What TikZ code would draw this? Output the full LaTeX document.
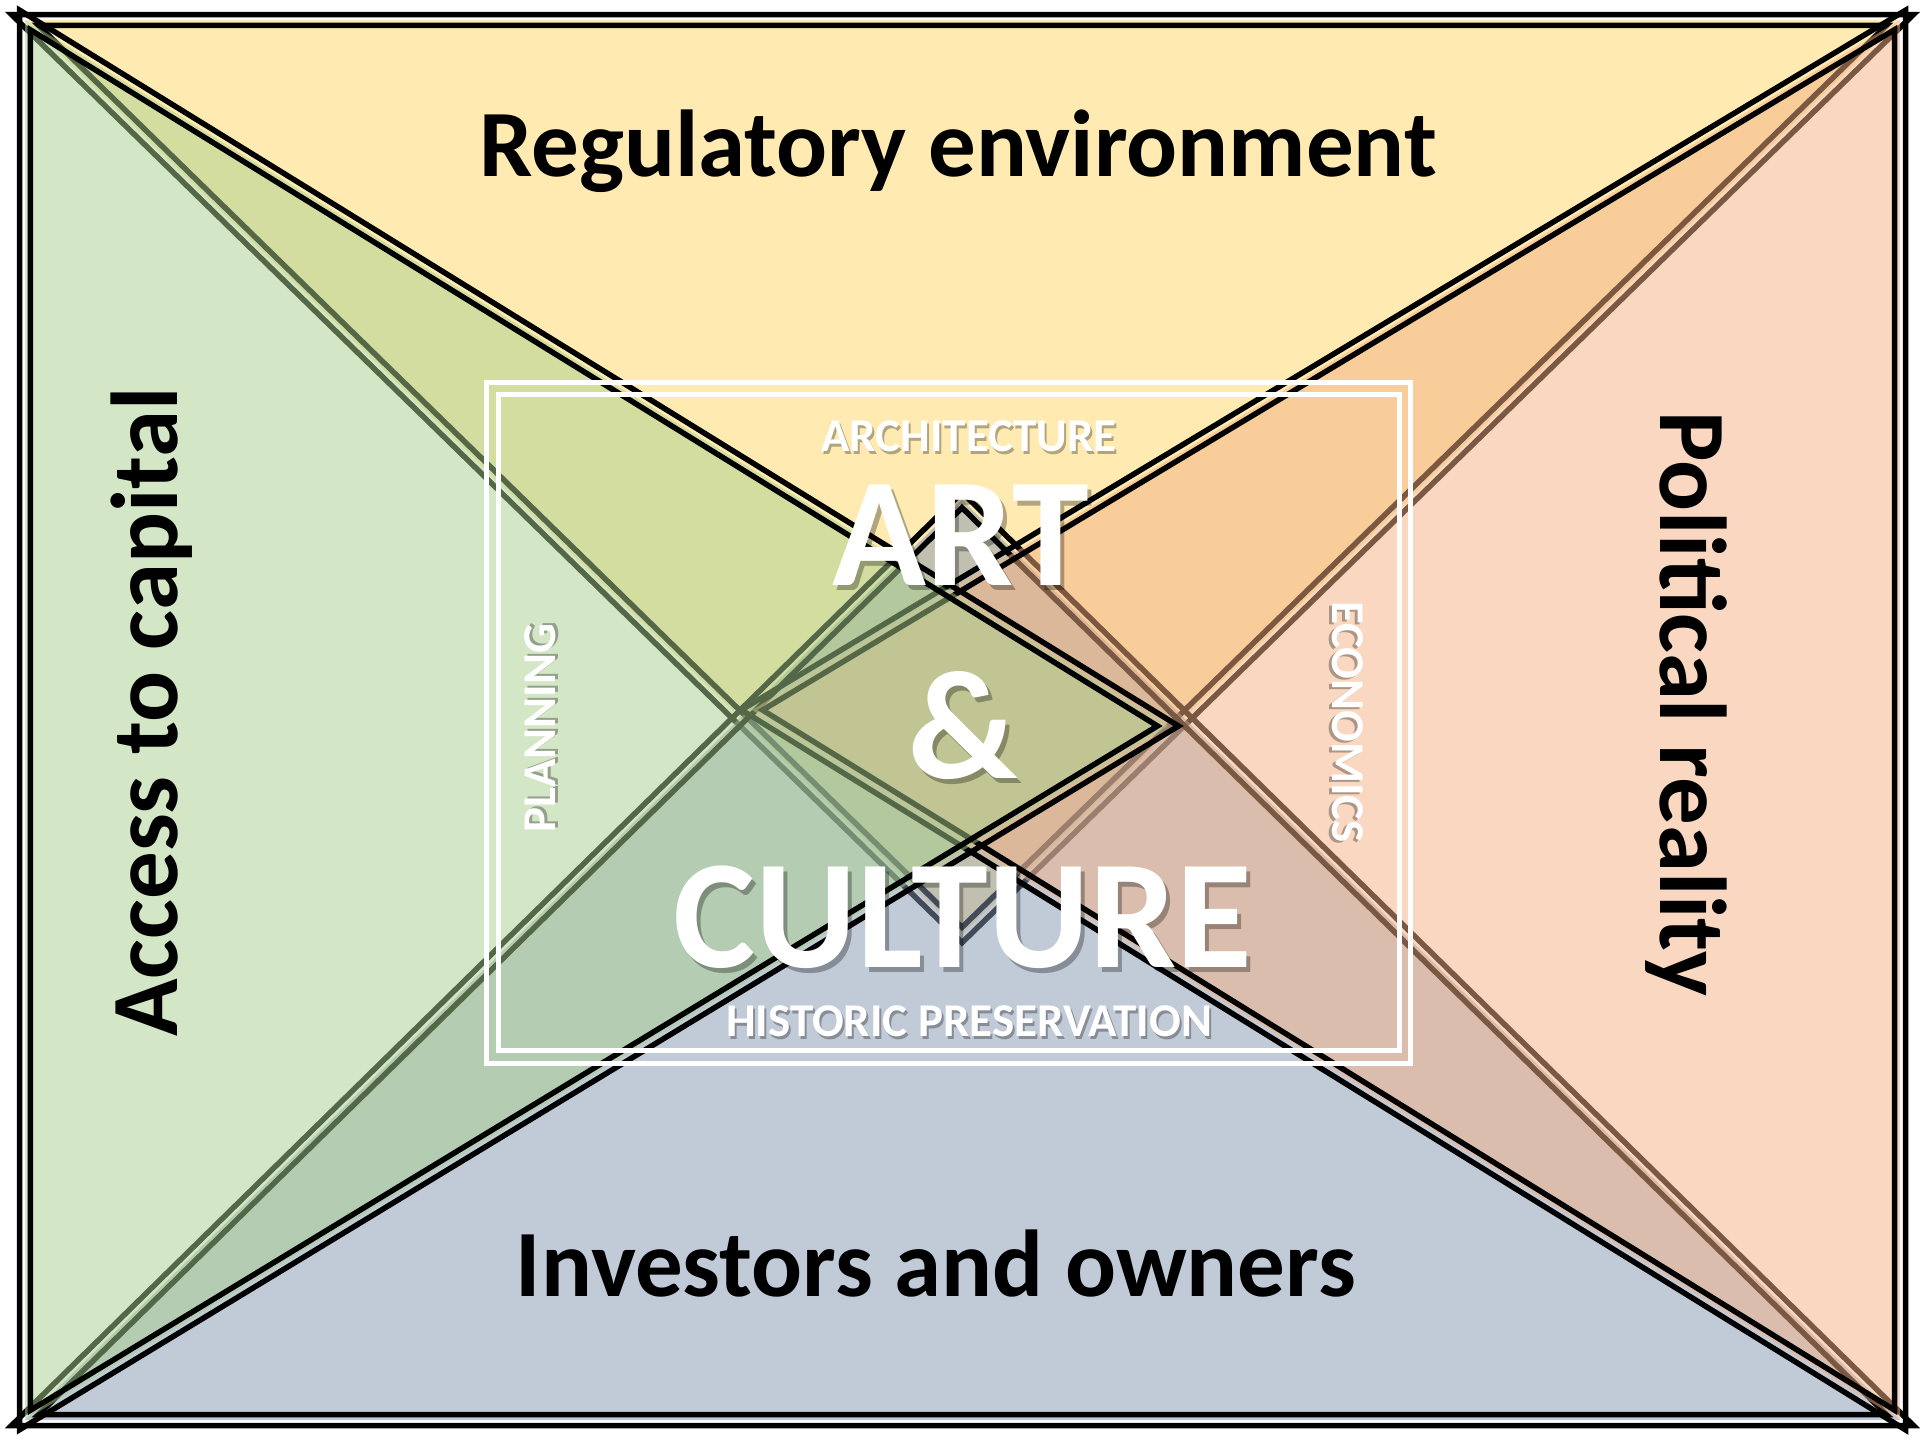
\documentclass[tikz,border=0pt]{standalone}
\usepackage{fontspec}
\setmainfont{Carlito}
\definecolor{cY}{HTML}{FFD966}
\definecolor{cB}{HTML}{8497B0}
\definecolor{cO}{HTML}{F4B183}
\definecolor{cG}{HTML}{A9D18E}
% text with a soft drop shadow inside the same node
\newcommand{\shtxt}[3]{\makebox[0pt][l]{\hspace*{#1}\raisebox{-#2}{\pgfsetfillopacity{0.3}\color{black}#3}}\pgfsetfillopacity{1}#3}
\begin{document}
\begin{tikzpicture}[x=1pt,y=-1pt,
  edge/.style={draw=black,line width=5.5pt,line join=miter,miter limit=20},
  tfill/.style={fill=#1,fill opacity=0.5},
  big/.style={font=\fontsize{95}{100}\selectfont\bfseries,inner sep=0pt,anchor=base},
  huge/.style={font=\fontsize{155}{160}\selectfont\bfseries,inner sep=0pt,anchor=base,text=white},
  small/.style={font=\fontsize{47}{50}\selectfont\bfseries,inner sep=0pt,anchor=base,text=white}]
\useasboundingbox (0,0) rectangle (1920,1440);
\fill[white] (0,0) rectangle (1920,1440);
% yellow (top)
\fill[tfill=cY] (25,20) -- (1900,20) -- (962,935) -- cycle;
\draw[edge,scale around={1.01441:(962.1,401.7)}] (25,20) -- (1900,20) -- (962,935) -- cycle;
\draw[edge,scale around={0.98559:(962.1,401.7)}] (25,20) -- (1900,20) -- (962,935) -- cycle;
% blue (bottom)
\fill[tfill=cB] (25,1420) -- (1900,1420) -- (962,500) -- cycle;
\draw[edge,scale around={1.01435:(962.1,1036.8)}] (25,1420) -- (1900,1420) -- (962,500) -- cycle;
\draw[edge,scale around={0.98565:(962.1,1036.8)}] (25,1420) -- (1900,1420) -- (962,500) -- cycle;
% orange (right)
\fill[tfill=cO] (1900,20) -- (1900,1420) -- (752,710) -- cycle;
\draw[edge,scale around={1.01399:(1507.0,714.8)}] (1900,20) -- (1900,1420) -- (752,710) -- cycle;
\draw[edge,scale around={0.98601:(1507.0,714.8)}] (1900,20) -- (1900,1420) -- (752,710) -- cycle;
% green (left)
\fill[tfill=cG] (25,20) -- (25,1420) -- (1168,726) -- cycle;
\draw[edge,scale around={1.01403:(417.1,724.2)}] (25,20) -- (25,1420) -- (1168,726) -- cycle;
\draw[edge,scale around={0.98597:(417.1,724.2)}] (25,20) -- (25,1420) -- (1168,726) -- cycle;
% labels
\node[big] (reg) at (958,176) {Regulatory environment};
\node[big] (inv) at (936,1296) {Investors and owners};
\node[big,rotate=90] (acc) at (177,712) {Access to capital};
\node[big,rotate=-90] (pol) at (1660,704) {Political reality};
% white frame
\draw[white,line width=5pt] (486.5,382.5) rectangle (1410.5,1063);
\draw[white,line width=5pt] (498.5,394.5) rectangle (1399.5,1050);
% white texts with shadows
\node[small] (arch) at (969,451) {\shtxt{2pt}{3pt}{ARCHITECTURE}};
\node[small] (hist) at (969,1036) {\shtxt{2pt}{3pt}{HISTORIC PRESERVATION}};
\node[small,rotate=90] (plan) at (555,728) {\shtxt{2pt}{3pt}{PLANNING}};
\node[small,rotate=-90] (econ) at (1332,722) {\shtxt{2pt}{3pt}{ECONOMICS}};
\node[huge] (art) at (961,585) {\shtxt{4pt}{5pt}{ART}};
\node[huge] (amp) at (963,778) {\shtxt{4pt}{5pt}{\&}};
\node[huge] (cul) at (963,967) {\shtxt{4pt}{5pt}{CULTURE}};
\end{tikzpicture}
\end{document}
